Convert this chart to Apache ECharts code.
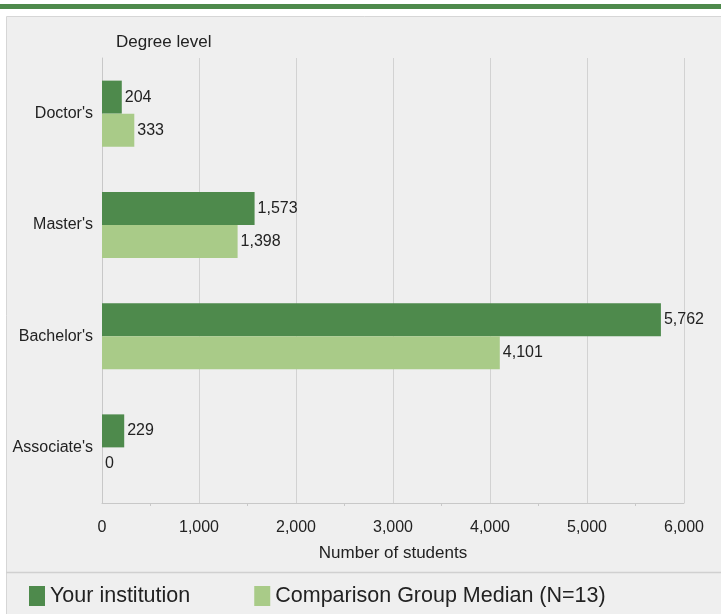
<!DOCTYPE html>
<html>
<head>
<meta charset="utf-8">
<script src="https://cdn.jsdelivr.net/npm/echarts@6/dist/echarts.min.js"></script>
<style>
html,body{margin:0;padding:0;background:#fff;}
#chart{width:721px;height:614px;}
</style>
</head>
<body>
<div id="chart"></div>
<script>
const categories = ["Doctor's", "Master's", "Bachelor's", "Associate's"];
const yourInstitution = [204, 1573, 5762, 229];
const comparisonMedian = [333, 1398, 4101, 0];
const seriesNames = ["Your institution", "Comparison Group Median (N=13)"];
const xTicks = { min: 0, max: 6000, interval: 1000 };

const FONT = '"Liberation Sans", Arial, sans-serif';
const chart = echarts.init(document.getElementById('chart'));
const fmt = v => v.toLocaleString('en-US');

chart.setOption({
  backgroundColor: '#ffffff',
  animation: false,
  graphic: [
    { type: 'rect', shape: { x: 0, y: 4, width: 721, height: 5 }, style: { fill: '#4e8a4c' }, z: -10 },
    { type: 'rect', shape: { x: 6.5, y: 16.5, width: 720, height: 600 }, style: { fill: '#efefef', stroke: '#d6d6d6', lineWidth: 1 }, z: -10 },
    { type: 'line', shape: { x1: 6, y1: 572.5, x2: 721, y2: 572.5 }, style: { stroke: '#d0d0d0', lineWidth: 1.5 }, z: -9 }
  ],
  title: {
    text: 'Degree level', left: 111, top: 29,
    textStyle: { fontFamily: FONT, fontSize: 17, fontWeight: 'normal', color: '#222' }
  },
  legend: {
    left: 29, top: 585, padding: 0,
    itemWidth: 16, itemHeight: 20, itemGap: 64,
    icon: 'rect',
    textStyle: { fontFamily: FONT, fontSize: 21.5, color: '#222' },
    data: seriesNames
  },
  grid: { left: 102, right: 37, top: 58, bottom: 111, containLabel: false, outerBoundsMode: 'none' },
  xAxis: {
    type: 'value', min: xTicks.min, max: xTicks.max, interval: xTicks.interval,
    name: 'Number of students', nameLocation: 'middle', nameGap: 42,
    nameTextStyle: { fontFamily: FONT, fontSize: 17, color: '#222' },
    axisLine: { show: true, lineStyle: { color: '#c8c8c8' } },
    axisTick: { show: false },
    axisLabel: { fontFamily: FONT, fontSize: 16, color: '#222', margin: 17, formatter: v => fmt(v) },
    splitLine: { show: true, lineStyle: { color: '#d2d2d2' } },
    minorTick: { show: true, splitNumber: 2, length: 3, lineStyle: { color: '#c8c8c8' } }
  },
  yAxis: {
    type: 'category', data: categories, inverse: true,
    axisLine: { show: true, lineStyle: { color: '#c8c8c8' } },
    axisTick: { show: false },
    axisLabel: { fontFamily: FONT, fontSize: 16, color: '#222', margin: 9 }
  },
  series: [
    {
      name: seriesNames[0], type: 'bar', data: yourInstitution,
      barWidth: 33, barGap: '0%',
      itemStyle: { color: '#4e8a4c' },
      label: { show: true, position: 'right', distance: 3, fontFamily: FONT, fontSize: 16, color: '#222', formatter: p => fmt(p.value) }
    },
    {
      name: seriesNames[1], type: 'bar', data: comparisonMedian,
      barWidth: 33, barGap: '0%',
      itemStyle: { color: '#a9cb88' },
      label: { show: true, position: 'right', distance: 3, fontFamily: FONT, fontSize: 16, color: '#222', formatter: p => fmt(p.value) }
    }
  ]
});
</script>
</body>
</html>
